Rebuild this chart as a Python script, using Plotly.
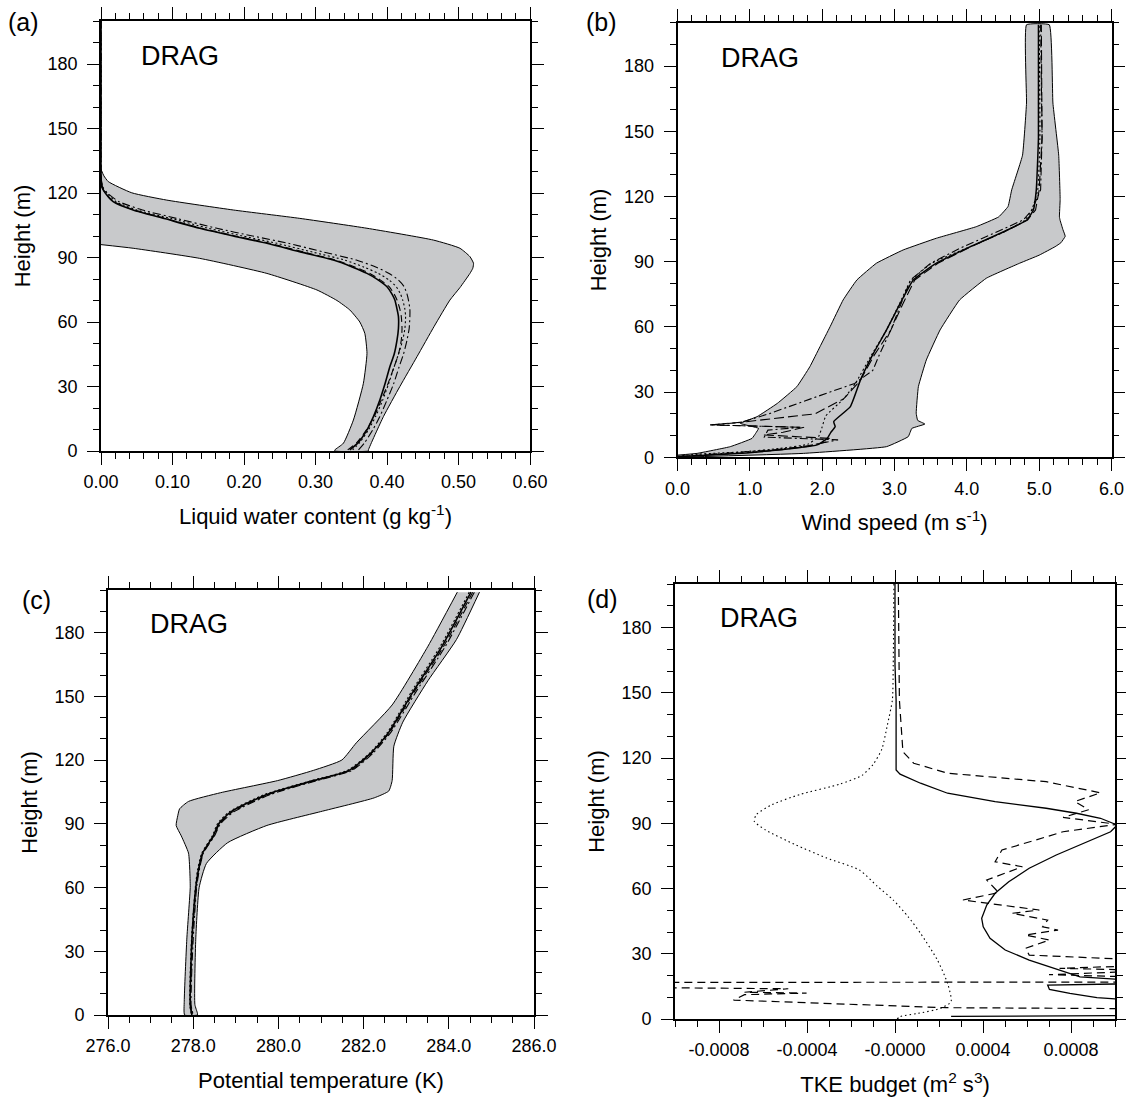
import numpy as np
import plotly.graph_objects as go

W, H = 1126, 1100
FONT = "Liberation Sans, Arial, Helvetica, sans-serif"

# ----------------------------------------------------------------- data (a)
a_max_h = [131, 128, 125.3, 120.1, 116.7, 112.1, 108.2, 103.6, 98.1, 94.3, 90.4, 87.3, 85, 82.6, 76, 70.2, 58, 43.9, 30, 16.0, 0.5]
a_max_x = [0.0, 0.004, 0.0102, 0.043, 0.092, 0.185, 0.278, 0.372, 0.465, 0.502, 0.516, 0.521, 0.520, 0.516, 0.502, 0.488, 0.466, 0.442, 0.418, 0.395, 0.374]
a_min_h = [96, 94.3, 89.6, 82.6, 74.9, 70, 65.6, 60, 54.7, 45.4, 31.5, 14.4, 3.6, 0.5]
a_min_x = [0.0, 0.045, 0.138, 0.232, 0.302, 0.330, 0.348, 0.362, 0.369, 0.372, 0.367, 0.353, 0.339, 0.327]
a_h = [200, 150, 128, 125, 123, 120, 116, 112.1, 108, 103.6, 100, 96.6, 92.5, 88.8, 85.5, 82.6, 79.5, 76.4,
       73, 70.2, 66, 62.5, 57, 51.6, 45, 39.2, 31, 23.7, 16, 9.8, 4, 0.5]
a_solid = [0, 0, 0, 0.0005, 0.001, 0.006, 0.017, 0.045, 0.090, 0.138, 0.185, 0.232, 0.280, 0.325, 0.352, 0.372,
           0.388, 0.400, 0.407, 0.411, 0.414, 0.416, 0.416, 0.414, 0.410, 0.404, 0.397, 0.390, 0.381, 0.372, 0.360, 0.348]
a_dashed = [0, 0, 0, 0.0005, 0.001, 0.006, 0.018, 0.046, 0.092, 0.140, 0.188, 0.236, 0.284, 0.328, 0.356, 0.376,
            0.391, 0.403, 0.410, 0.414, 0.418, 0.420, 0.421, 0.420, 0.416, 0.410, 0.401, 0.392, 0.382, 0.371, 0.358, 0.345]
a_dotted = [0, 0, 0, 0.001, 0.002, 0.008, 0.021, 0.050, 0.100, 0.150, 0.198, 0.246, 0.296, 0.341, 0.368, 0.388,
            0.403, 0.413, 0.419, 0.422, 0.425, 0.426, 0.425, 0.422, 0.416, 0.410, 0.402, 0.394, 0.384, 0.374, 0.362, 0.352]
a_dashdot = [0, 0, 0, 0.001, 0.002, 0.009, 0.025, 0.058, 0.108, 0.162, 0.212, 0.262, 0.312, 0.357, 0.385, 0.403,
             0.416, 0.424, 0.428, 0.430, 0.432, 0.432, 0.431, 0.428, 0.423, 0.417, 0.409, 0.400, 0.390, 0.380, 0.369, 0.360]

# ----------------------------------------------------------------- data (b)
b_min_h = [1.0, 1.8, 4.9, 8.7, 11.0, 13.3, 15.6, 18.7, 24.8, 32.5, 41.7, 50.9, 60.1, 72.4, 81.6, 89.3, 95.4,
           100.8, 106.1, 110.6, 115.4, 123, 139, 163, 199]
b_min_x = [0.0, 0.27, 0.73, 1.03, 1.08, 1.12, 0.87, 1.10, 1.38, 1.65, 1.83, 1.97, 2.11, 2.29, 2.48, 2.75, 3.12,
           3.58, 4.13, 4.44, 4.57, 4.62, 4.77, 4.825, 4.825]
b_max_h = [199, 163, 139, 118.6, 110.6, 109, 104.6, 101.7, 98.7, 96.9, 93, 89.3, 82.4, 72.4, 58.6, 44.8, 32.5,
           20.3, 17, 15.3, 13.3, 9.5, 4.9, 1.8, 0]
b_max_x = [5.14, 5.19, 5.27, 5.29, 5.28, 5.29, 5.33, 5.36, 5.30, 5.22, 5.00, 4.73, 4.27, 3.90, 3.63, 3.44, 3.33,
           3.30, 3.32, 3.42, 3.24, 3.19, 2.89, 1.74, 0.0]
b_solid_h = [0.3, 1.1, 2.0, 3.2, 4.5, 5.7, 8.7, 11.5, 14.1, 16.4, 23.3, 35.6, 47.9, 58.6, 70.9, 81.6, 89.3,
             96.9, 103.8, 109.2, 113.8, 123, 147, 199]
b_solid_x = [0.0, 0.45, 0.95, 1.35, 1.70, 1.93, 2.07, 2.12, 2.18, 2.16, 2.39, 2.53, 2.71, 2.89, 3.08, 3.26, 3.58,
             4.05, 4.51, 4.83, 4.92, 4.96, 4.99, 4.99]
b_dashed_h = [0.3, 1.2, 2.2, 3.5, 5.0, 7.0, 8.7, 10.3, 11.5, 13.8, 14.9, 16.2, 20, 27, 35, 47, 58.6, 70.9, 81.6,
              89.3, 96.9, 103.8, 109.2, 113.8, 123, 147, 199]
b_dashed_x = [0.0, 0.5, 1.0, 1.45, 1.80, 2.05, 2.10, 1.19, 1.46, 1.75, 0.45, 0.90, 1.90, 2.30, 2.52, 2.72, 2.95,
              3.12, 3.28, 3.60, 4.06, 4.52, 4.84, 4.95, 5.00, 5.04, 5.03]
b_dashdot_h = [0.3, 1.2, 2.2, 3.5, 5.0, 7.0, 8.0, 9.3, 12.5, 13.8, 14.9, 16.0, 20.2, 27, 34, 40, 47.9, 58.6, 70.9,
               81.6, 89.3, 96.9, 103.8, 109.2, 113.8, 123, 147, 199]
b_dashdot_x = [0.0, 0.4, 0.9, 1.35, 1.75, 2.10, 2.22, 1.20, 1.25, 1.70, 0.45, 0.87, 1.28, 1.85, 2.45, 2.70, 2.80,
               2.95, 3.10, 3.22, 3.50, 3.95, 4.42, 4.78, 4.90, 5.02, 5.04, 5.02]
b_dotted_h = [0.5, 1.5, 2.5, 4.0, 6.0, 9.5, 14, 19, 27, 34, 47, 58, 70, 81, 89, 96, 103, 109, 114, 123, 147, 199]
b_dotted_x = [0.0, 0.3, 0.9, 1.4, 1.8, 1.95, 2.0, 2.05, 2.3, 2.46, 2.68, 2.88, 3.06, 3.22, 3.50, 3.98, 4.47, 4.80,
              4.90, 4.98, 5.01, 5.00]

# ----------------------------------------------------------------- data (c)
c_min_h = [199, 173.5, 145.9, 128.1, 120, 115.1, 110.3, 104.6, 100.5, 97, 94, 89.2, 84.3, 76.2, 68, 60, 35.7, 6.5, 0]
c_min_x = [284.2, 283.51, 282.67, 281.83, 281.49, 280.82, 279.98, 278.64, 277.89, 277.68, 277.64, 277.60, 277.72,
           277.89, 277.92, 277.93, 277.85, 277.79, 277.80]
c_max_h = [199, 176.7, 157.3, 137.8, 126.5, 110.3, 105.4, 102.2, 95.7, 89.2, 81.1, 71.3, 60, 35.7, 4.9, 0.8, 0]
c_max_x = [284.72, 284.18, 283.51, 282.92, 282.71, 282.67, 282.59, 282.25, 280.99, 279.73, 278.81, 278.31, 278.14,
           278.06, 278.04, 278.10, 278.10]
c_h = [199, 173.5, 152.4, 133, 123.2, 115.1, 110.3, 103.8, 95.7, 90, 84.3, 76.2, 68, 60, 35.7, 4.9, 0]
c_solid = [284.52, 283.84, 283.17, 282.59, 282.17, 281.66, 280.82, 279.73, 278.89, 278.60, 278.47, 278.22, 278.12,
           278.06, 277.97, 277.93, 277.97]
c_dashed = [284.56, 283.88, 283.20, 282.61, 282.19, 281.70, 280.86, 279.78, 278.93, 278.62, 278.49, 278.23, 278.13,
            278.07, 277.98, 277.94, 277.98]
c_dotted = [284.48, 283.80, 283.13, 282.56, 282.14, 281.62, 280.78, 279.68, 278.85, 278.57, 278.45, 278.20, 278.10,
            278.05, 277.96, 277.92, 277.96]
c_dashdot = [284.60, 283.92, 283.24, 282.64, 282.22, 281.73, 280.90, 279.82, 278.96, 278.64, 278.50, 278.24, 278.14,
             278.08, 278.00, 277.95, 278.00]

# ----------------------------------------------------------------- data (d)  (values in 1e-4 m2 s-3)
d_solid_h = [200, 163, 146.7, 114.5, 112.6, 108.4, 103.8, 99.9, 96.9, 94.6, 92.3, 89.2, 86.1, 81.5, 75.4, 69.3,
             63.1, 57.8, 52.4, 46.3, 42.4, 37.1, 31.7, 27.1, 24.0, 21.8, 19.4, 17.9, 16.2, 15.6, 13.6, 11.8, 9.8,
             9.2, 8.5, 1.6, 1.2]
d_solid_v = [0, 0, 0.05, 0.05, 0.23, 1.16, 2.39, 4.55, 6.87, 8.25, 9.34, 10.1, 9.8, 8.72, 7.33, 6.1, 5.17, 4.55,
             4.17, 3.94, 4.01, 4.32, 5.01, 6.1, 7.02, 7.64, 8.41, 10.6, 10.6, 6.94, 7.02, 7.95, 9.18, 10.1, 12, 12, 2.55]
d_dashed_h = [200, 146.7, 122.9, 117.6, 113, 109.1, 104, 100, 96.2, 92.7, 89.5, 86.1, 82.3, 77.7, 72.3, 70, 63.9,
              58.1, 54.7, 50.1, 48.6, 45.5, 42.4, 40.9, 38.6, 36.3, 32.5, 29.4, 26.8, 24.8, 23.3, 22.3, 20.4, 19,
              17, 16.8, 14.5, 13.9, 12.3, 11.9, 11.2, 8.7, 5.2, 4.7]
d_dashed_v = [0.15, 0.2, 0.36, 0.85, 2.39, 6.87, 9.34, 8.18, 8.8, 7.64, 10.1, 7.64, 6.4, 4.86, 4.55, 5.79, 4.17,
              4.71, 3.09, 6.56, 5.32, 6.94, 6.71, 7.41, 5.94, 7.02, 5.94, 6.1, 12, 12, 7.48, 12, 7.0, 12,
              12, -12, -12, -4.85, -6.84, -4.02, -6.84, -7.34, 2.3, 12]
d_dotted_h = [200, 163, 146.7, 135, 124, 117, 112, 108, 103.3, 98.5, 94, 91, 87, 80, 74, 68.5, 61, 54.7, 47,
              39.4, 27.1, 16.4, 8.0, 4.9, 2.5, 1.1, 0]
d_dotted_v = [-0.05, -0.08, -0.12, -0.35, -0.6, -1.0, -1.5, -2.5, -4.3, -5.6, -6.3, -6.4, -5.9, -4.5, -3.1, -1.62,
              -0.8, -0.08, 0.6, 1.16, 1.93, 2.39, 2.55, 2.08, 1.0, 0.23, 0.1]

# axis titles
x_titles = ["Liquid water content (g kg<sup>-1</sup>)", "Wind speed (m s<sup>-1</sup>)",
            "Potential temperature (K)", "TKE budget (m<sup>2</sup> s<sup>3</sup>)"]
y_title = "Height (m)"

# ----------------------------------------------------------------- layout
boxes = {1: (101, 530, 21, 451), 2: (677.5, 1111.5, 22.6, 457.3),
         3: (108, 534, 590, 1015), 4: (675, 1115, 584, 1019)}

fig = go.Figure()


def sfx(i):
    return "" if i == 1 else str(i)


def add_line(i, x, y, dash="solid", width=1.1, smooth=0.0):
    ln = dict(color="black", width=width, dash=dash)
    if smooth:
        ln.update(shape="spline", smoothing=smooth)
    fig.add_trace(go.Scatter(x=x, y=y, mode="lines", showlegend=False, hoverinfo="skip", line=ln,
                             xaxis="x" + sfx(i), yaxis="y" + sfx(i)))


def add_env(i, px, py, smooth=0.5):
    ln = dict(color="black", width=1)
    if smooth:
        ln.update(shape="spline", smoothing=smooth)
    fig.add_trace(go.Scatter(x=px, y=py, mode="lines", fill="toself", fillcolor="#c8c9cb",
                             line=ln, showlegend=False, hoverinfo="skip",
                             xaxis="x" + sfx(i), yaxis="y" + sfx(i)))


DASH = "7px,4px"
DOT = "2px,2.5px"
DASHDOT = "8px,3px,2px,3px"

# (a)
add_env(1, a_max_x + [0.374, 0.327] + a_min_x[::-1], a_max_h + [0, 0] + a_min_h[::-1])
add_line(1, a_dashdot, a_h, DASHDOT, smooth=0.6)
add_line(1, a_dotted, a_h, DOT, smooth=0.6)
add_line(1, a_dashed, a_h, DASH, smooth=0.6)
add_line(1, a_solid, a_h, "solid", 1.6, smooth=0.6)

# (b)
add_env(2, b_min_x + b_max_x, b_min_h + b_max_h, smooth=0.3)
add_line(2, b_dashdot_x, b_dashdot_h, DASHDOT)
add_line(2, b_dotted_x, b_dotted_h, DOT, smooth=0.4)
add_line(2, b_dashed_x, b_dashed_h, "10px,4px")
add_line(2, b_solid_x, b_solid_h, "solid", 1.5, smooth=0.4)

# (c)
add_env(3, c_min_x + c_max_x[::-1], c_min_h + c_max_h[::-1])
add_line(3, c_dashdot, c_h, DASHDOT, smooth=0.6)
add_line(3, c_dotted, c_h, DOT, smooth=0.6)
add_line(3, c_dashed, c_h, DASH, smooth=0.6)
add_line(3, c_solid, c_h, "solid", 1.6, smooth=0.6)

# (d)
add_line(4, list(np.array(d_dotted_v) * 1e-4), d_dotted_h, "1.5px,3px", 1.1, smooth=0.6)
add_line(4, list(np.array(d_dashed_v) * 1e-4), d_dashed_h, "8px,5px", 1.2)
add_line(4, list(np.array(d_solid_v) * 1e-4), d_solid_h, "solid", 1.3)

tick_font = dict(family=FONT, size=18, color="black")
title_font = dict(family=FONT, size=22, color="black")
common = dict(showline=True, linecolor="black", linewidth=1.6, mirror="ticks", ticks="outside",
              ticklen=12, tickwidth=1.3, tickcolor="black", showgrid=False, zeroline=False,
              tickfont=tick_font, tickmode="array", fixedrange=True, automargin=False)

x_specs = {
    1: ([0, 0.6], [0, 0.1, 0.2, 0.3, 0.4, 0.5, 0.6], ["0.00", "0.10", "0.20", "0.30", "0.40", "0.50", "0.60"], 0.02),
    2: ([0, 6], [0, 1, 2, 3, 4, 5, 6], ["0.0", "1.0", "2.0", "3.0", "4.0", "5.0", "6.0"], 0.2),
    3: ([276, 286], [276, 278, 280, 282, 284, 286], ["276.0", "278.0", "280.0", "282.0", "284.0", "286.0"], 0.5),
    4: ([-0.001, 0.001], [-0.0008, -0.0004, 0, 0.0004, 0.0008],
        ["-0.0008", "-0.0004", "-0.0000", "0.0004", "0.0008"], 0.0001),
}
yt = [0, 30, 60, 90, 120, 150, 180]
layout = dict(width=W, height=H, margin=dict(l=0, r=0, t=0, b=0, autoexpand=False), paper_bgcolor="white",
              plot_bgcolor="white", showlegend=False, template="none")
for i, (l, r, t, b) in boxes.items():
    rng, tv, tt, mstep = x_specs[i]
    mvals = list(np.round(np.arange(rng[0], rng[1] + mstep / 2, mstep), 8))
    layout["xaxis" + sfx(i)] = dict(common, domain=[l / W, r / W], range=rng, tickvals=tv, ticktext=tt,
                                    anchor="y" + sfx(i), ticklabelstandoff=2,
                                    title=dict(text=x_titles[i - 1], font=title_font, standoff=17),
                                    minor=dict(ticks="outside", ticklen=6, tickwidth=1, tickcolor="black",
                                               tickmode="array", tickvals=mvals, showgrid=False))
    layout["yaxis" + sfx(i)] = dict(common, domain=[1 - b / H, 1 - t / H], range=[0, 200], tickvals=yt,
                                    ticktext=[str(v) for v in yt], anchor="x" + sfx(i), ticklabelstandoff=6,
                                    title=dict(text=y_title, font=title_font, standoff=11),
                                    minor=dict(ticks="outside", ticklen=6, tickwidth=1, tickcolor="black",
                                               tickmode="array", tickvals=list(range(0, 201, 10)),
                                               showgrid=False))
fig.update_layout(**layout)


def ann(text, px, py, size, xanchor="center"):
    fig.add_annotation(text=text, x=px / W, y=1 - py / H, xref="paper", yref="paper", showarrow=False,
                       xanchor=xanchor, yanchor="middle",
                       font=dict(family=FONT, size=size, color="black"))


# panel letters
ann("(a)", 23, 22, 25)
ann("(b)", 601, 22, 25)
ann("(c)", 36, 600, 25)
ann("(d)", 602, 599, 25)
# DRAG labels
ann("DRAG", 139, 56, 27, xanchor="left")
ann("DRAG", 719, 58, 27, xanchor="left")
ann("DRAG", 148, 624, 27, xanchor="left")
ann("DRAG", 718, 618, 27, xanchor="left")

fig.write_html("out.html")
